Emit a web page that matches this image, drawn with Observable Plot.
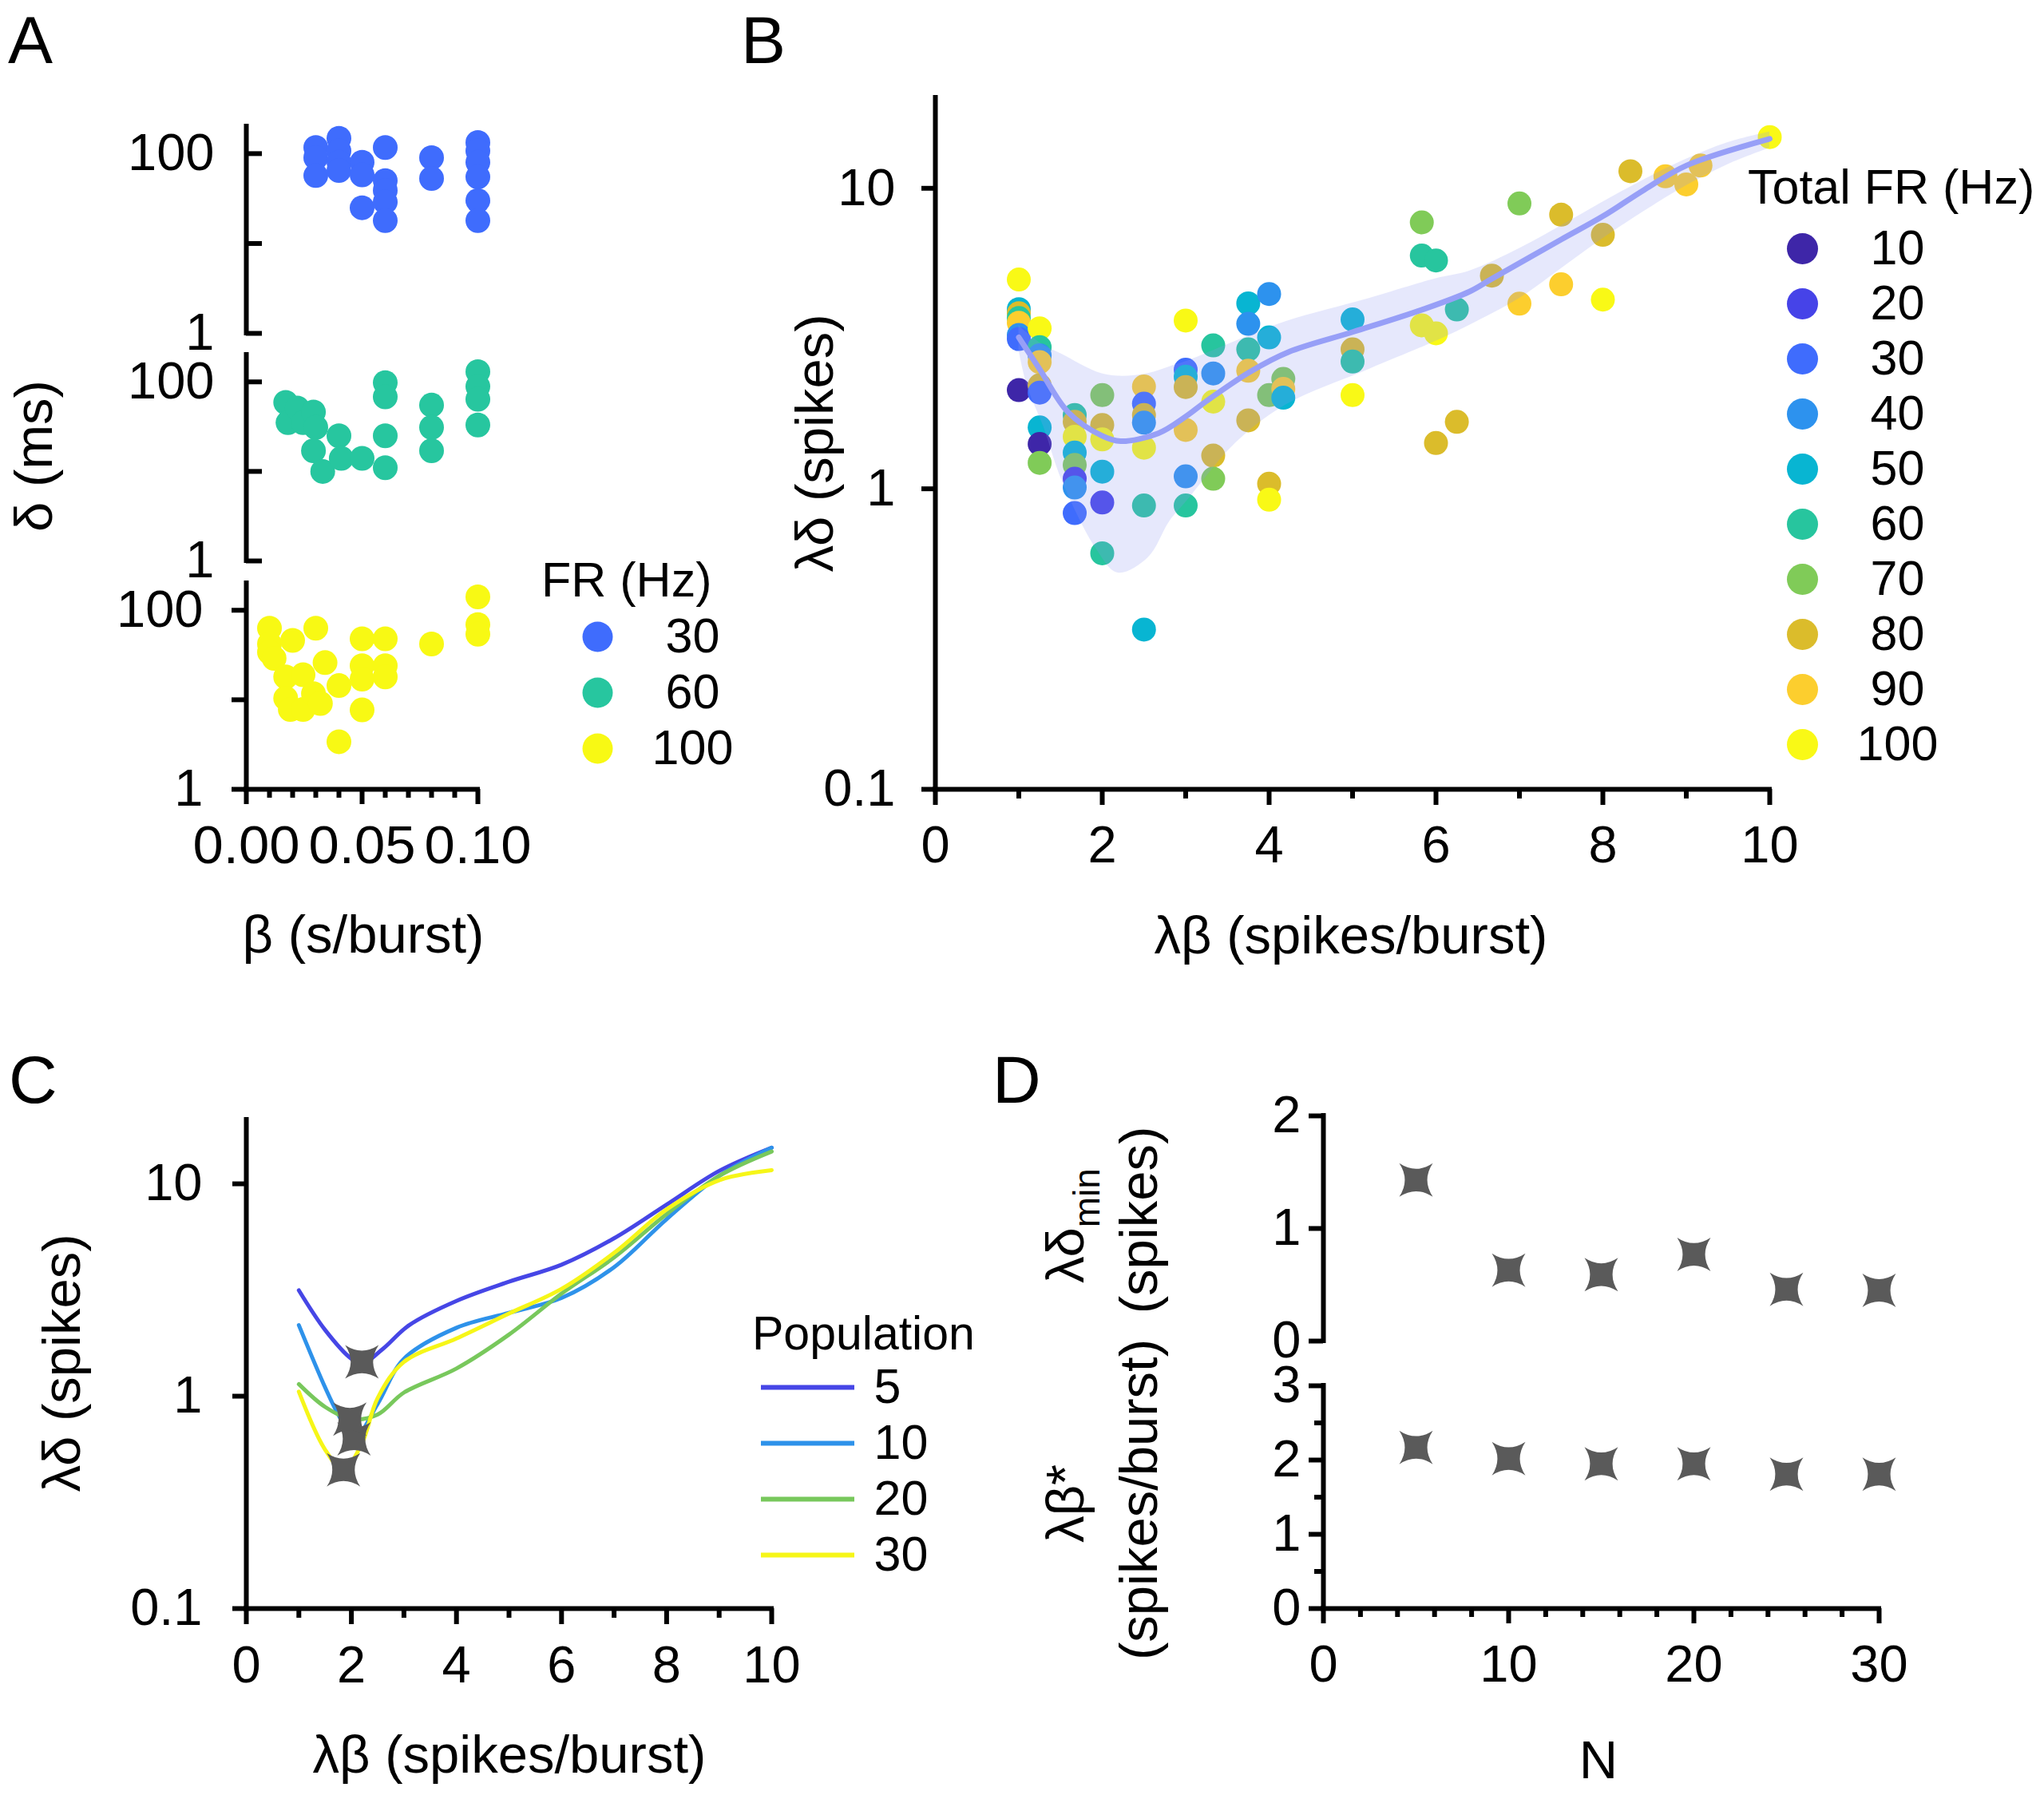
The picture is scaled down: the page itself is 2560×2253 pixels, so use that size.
<!DOCTYPE html>
<html>
<head>
<meta charset="utf-8">
<script src="https://cdn.jsdelivr.net/npm/d3@7"></script>
<script src="https://cdn.jsdelivr.net/npm/@observablehq/plot@0.6"></script>
<style>
html, body { margin: 0; padding: 0; background: #fff; width: 2560px; height: 2253px; }
#fig { position: relative; width: 2560px; height: 2253px; background: #fff; overflow: hidden; }
#fig svg { position: absolute; overflow: visible; max-width: none; }
</style>
</head>
<body>
<div id="fig"></div>
<script>
// ================= DATA =================
// Panel A : beta (s/burst) vs delta (ms), per firing rate
const aFR = [30, 60, 100];
const aColors = ["#3f6cfd", "#27c69f", "#f8f914"];
const aBeta30  = [0.03,0.03,0.03,0.04,0.04,0.04,0.04,0.05,0.05,0.05,0.06,0.06,0.06,0.06,0.06,0.08,0.08,0.10,0.10,0.10,0.10,0.10,0.10];
const aDelta30 = [117,90,57,148,107,80,65,80,58,25,117,50,39,29,18,90,53,133,107,80,55,30,18];
const aBeta60  = [0.017,0.018,0.022,0.0245,0.029,0.030,0.029,0.033,0.040,0.041,0.050,0.060,0.060,0.060,0.060,0.080,0.080,0.080,0.10,0.10,0.10,0.10];
const aDelta60 = [59,35,51,35,46,31,17,10,25,14,14,98,68,25,11,55,31,17,130,89,64,33];
const aBeta100  = [0.010,0.010,0.010,0.012,0.017,0.017,0.019,0.020,0.0245,0.0245,0.030,0.029,0.032,0.034,0.040,0.040,0.050,0.050,0.050,0.050,0.060,0.060,0.060,0.080,0.10,0.10,0.10];
const aDelta100 = [63,42,34,29,18,10.4,7.8,46,19,7.8,63,11.7,9.1,26,14.4,3.4,48,24,17,7.7,48,24,18,42,141,69,54];
const aMajorTicks = [0, 0.05, 0.10];
const aMinorTicks = [0.01,0.02,0.03,0.04,0.06,0.07,0.08,0.09];

// Panel B : lambda*beta vs lambda*delta, coloured by total FR
const bFRs = [10,20,30,40,50,60,70,80,90,100];
const bColors = ["#3e26a8","#4643e8","#3f6cfd","#2d92ee","#08b5d2","#27c59e","#80cb58","#dbbc2b","#fcce2e","#f9f916"];
const bLB = [1,1,1,1,1,1,1,1,
  1.25,1.25,1.25,1.25,1.25,1.25,1.25,1.25,1.25,
  1.67,1.67,1.67,1.67,1.67,1.67,1.67,1.67,
  2,2,2,2,2,2,
  2.5,2.5,2.5,2.5,2.5,2.5,2.5,
  3,3,3,3,3,3,3,
  3.33,3.33,3.33,3.33,3.33,
  3.75,3.75,3.75,3.75,3.75,
  4,4,4,4,4,
  4.17,4.17,4.17,
  5,5,5,5,
  5.83,5.83,5.83,
  6,6,6,
  6.25,6.25,
  6.67,
  7,7,
  7.5,7.5,
  8,8,
  8.33,8.75,9,9.17,10];
const bLD = [4.97,3.96,3.84,3.7,3.57,3.25,3.15,2.13,
  3.42,2.96,2.78,2.64,2.21,2.09,1.60,1.41,1.22,
  1.76,1.67,1.49,1.32,1.20,1.08,1.01,0.83,
  2.05,1.63,1.46,1.14,0.90,0.61,
  2.19,1.92,1.76,1.66,1.37,0.88,0.34,
  3.63,2.49,2.36,2.18,1.57,1.10,0.88,
  3.0,2.42,1.95,1.29,1.08,
  4.14,3.54,2.91,2.47,1.69,
  4.45,3.19,2.05,1.04,0.92,
  2.32,2.15,2.01,
  3.66,2.91,2.65,2.05,
  7.7,5.97,3.5,
  5.75,3.29,1.42,
  3.95,1.67,
  5.12,
  8.9,4.13,
  8.17,4.79,
  7.0,4.26,
  11.4,10.96,10.3,11.9,14.8];
const bFR = [100,50,80,60,90,40,30,10,
  100,60,40,90,80,30,50,10,70,
  60,80,100,50,70,20,40,30,
  70,80,100,50,20,60,
  90,30,80,40,100,60,50,
  100,30,50,80,90,40,60,
  60,40,100,80,70,
  50,40,60,90,80,
  40,50,70,80,100,
  70,90,50,
  50,80,60,100,
  70,60,100,
  60,100,80,
  60,80,
  80,
  70,90,
  80,90,
  80,100,
  80,90,90,90,100];
const bFitLB = [1,1.25,1.59,2.0,2.22,2.67,3.0,3.24,3.77,4.23,5.01,5.84,6.4,6.67,7.5,8.0,8.5,9.0,10];
const bFitLD = [3.19,2.5,1.80,1.5,1.44,1.53,1.74,1.95,2.45,2.85,3.33,3.95,4.53,5.0,6.75,8.07,9.9,11.9,14.6];
const bBandLB = [1,1.1,1.3,1.52,1.93,2.19,2.55,2.81,3.0,3.6,4.2,5.2,6.0,6.4,7,7.5,8,8.5,9,9.5,10];
const bBandLo = [2.9,2.2,1.6,1.06,0.63,0.525,0.59,0.78,0.9,1.42,1.9,2.5,3.1,3.5,4.3,5.4,6.8,8.4,10.2,12.0,13.6];
const bBandHi = [3.5,3.3,3.0,2.80,2.45,2.37,2.42,2.55,2.65,3.1,3.6,4.3,5.0,5.3,6.3,7.5,9.0,10.7,12.5,14.2,15.4];
const bMajorTicks = [0,2,4,6,8,10];
const bMinorTicks = [1,3,5,7,9];

// Panel C : fitted curves per population size
const cPops = [5, 10, 20, 30];
const cColors = ["#4646e6", "#2e92ea", "#78c85c", "#f6f618"];
const cLB5  = [1,1.5,2,2.2,2.6,3.1,4,5,6,7,8,9,10];
const cLD5  = [3.15,2.05,1.5,1.42,1.67,2.16,2.81,3.46,4.16,5.54,7.98,11.5,14.8];
const cLB10 = [1,1.5,1.75,2.05,2.5,3,4,5,6,7,8,9,10];
const cLD10 = [2.16,1.1,0.82,0.63,0.92,1.5,2.1,2.47,2.9,4.05,6.82,10.9,14.8];
const cLB20 = [1,1.5,2,2.5,3,4,5,6,7,8,9,10];
const cLD20 = [1.14,0.89,0.78,0.82,1.04,1.35,1.95,3.04,4.5,7.2,10.9,14.2];
const cLB30 = [1,1.5,1.85,2.2,2.5,3,4,5,6,7,8,9,10];
const cLD30 = [1.05,0.56,0.45,0.6,0.98,1.45,1.87,2.45,3.2,4.73,7.58,10.4,11.6];
const cStarLB = [2.2, 2.05, 1.97, 1.85];
const cStarLD = [1.45, 0.63, 0.78, 0.45];

// Panel D : minima vs population size N
const dN = [5, 10, 15, 20, 25, 30];
const dDeltaMin = [1.43, 0.63, 0.59, 0.77, 0.46, 0.45];
const dBetaStar = [2.17, 2.02, 1.95, 1.95, 1.81, 1.81];
const dMajorX = [0, 10, 20, 30];
const dMinorX = [2,4,6,8,12,14,16,18,22,24,26,28];

// ================= DRAWING =================
const FONT = '"Liberation Sans", Arial, Helvetica, sans-serif';
const fig = document.getElementById("fig");
const AX = 6;           // axis line width
const TICKFONT = 65;
const st = () => ({fontFamily: FONT, fontSize: TICKFONT + "px", color: "#000", background: "transparent", overflow: "visible"});
function put(el, left, top) {
  el.style.position = "absolute";
  el.style.left = left + "px";
  el.style.top = top + "px";
  el.style.maxWidth = "none";
  fig.appendChild(el);
  return el;
}
const fmt = d => String(d);

// custom concave 4-point star
const star4 = {
  draw(ctx, size) {
    const r = Math.sqrt(size / Math.PI), k = 0.34 * r;
    ctx.moveTo(-r, -r);
    ctx.quadraticCurveTo(0, -k, r, -r);
    ctx.quadraticCurveTo(k, 0, r, r);
    ctx.quadraticCurveTo(0, k, -r, r);
    ctx.quadraticCurveTo(-k, 0, -r, -r);
    ctx.closePath();
  }
};
const STAR = "#5a5a5a";
const STAR_R = 21;

// ---------- Panel A ----------
function aSub(betas, deltas, color, top, mTop, frameH, inward, withX) {
  const rows = betas.map((b, i) => ({beta: b, delta: deltas[i]}));
  const mBottom = withX ? 110 : 40;
  const marks = [
    Plot.dot(rows, {x: "beta", y: "delta", r: 15.5, fill: color}),
    Plot.ruleX([0], {stroke: "#000", strokeWidth: AX, strokeLinecap: "square"}),
    Plot.axisY({ticks: [1, 10, 100], tickSize: inward ? -20 : 18, text: null, strokeWidth: AX, label: null}),
    Plot.axisY({ticks: [1, 100], tickSize: 0, tickPadding: inward ? 40 : 54, tickFormat: fmt, label: null})
  ];
  if (withX) {
    marks.push(
      Plot.ruleY([1], {stroke: "#000", strokeWidth: AX, strokeLinecap: "square"}),
      Plot.axisX({ticks: aMajorTicks, tickSize: 19, tickPadding: 26, strokeWidth: AX, tickFormat: d3.format(".2f"), fontSize: 67, label: null}),
      Plot.axisX({ticks: aMinorTicks, tickSize: 11, text: null, strokeWidth: AX, label: null})
    );
  }
  const p = Plot.plot({
    width: 700, height: mTop + frameH + mBottom,
    marginLeft: 308, marginRight: 102, marginTop: mTop, marginBottom: mBottom,
    style: st(),
    x: withX ? {domain: [0, 0.10]} : {domain: [0, 0.10], axis: null},
    y: {type: "log", domain: [1, 200]},
    marks
  });
  return put(p, 0, top);
}
aSub(aBeta30, aDelta30, aColors[0], 120, 38, 259, true, false);
aSub(aBeta60, aDelta60, aColors[1], 410, 34, 258, true, false);
const aBottom = aSub(aBeta100, aDelta100, aColors[2], 700, 30, 258, false, true);
// the reference uses narrow, tall glyphs for these three labels
aBottom.querySelectorAll('g[aria-label="x-axis tick label"] text').forEach(t => {
  t.setAttribute("textLength", 134);
  t.setAttribute("lengthAdjust", "spacingAndGlyphs");
});

// legend A
put(Plot.plot({
  width: 300, height: 300, margin: 0, style: st(),
  x: {domain: [0, 1], range: [108, 227], axis: null},
  y: {type: "point", domain: aFR, range: [117, 257], padding: 0, axis: null},
  color: {domain: aFR, range: aColors},
  marks: [
    Plot.dot(aFR, {x: () => 0, y: d => d, fill: d => d, r: 19}),
    Plot.text(aFR, {x: () => 1, y: d => d, text: fmt, fontSize: 61, textAnchor: "middle"})
  ]
}), 640, 680);

// ---------- Panel B ----------
const bRows = bLB.map((x, i) => ({lb: x, ld: bLD[i], fr: bFR[i]}));
const bFit = bFitLB.map((x, i) => ({lb: x, ld: bFitLD[i]}));
const bBand = bBandLB.map((x, i) => ({lb: x, lo: bBandLo[i], hi: bBandHi[i]}));
put(Plot.plot({
  width: 1260, height: 1038, marginLeft: 171, marginRight: 44, marginTop: 62, marginBottom: 110,
  style: st(),
  x: {domain: [0, 10]},
  y: {type: "log", domain: [0.1, 20]},
  color: {type: "ordinal", domain: bFRs, range: bColors},
  marks: [
    Plot.dot(bRows, {x: "lb", y: "ld", fill: "fr", r: 15}),
    Plot.areaY(bBand, {x: "lb", y1: "lo", y2: "hi", fill: "#8f98f0", fillOpacity: 0.22, curve: "catmull-rom"}),
    Plot.line(bFit, {x: "lb", y: "ld", stroke: "#979ff7", strokeWidth: 7, curve: "catmull-rom"}),
    Plot.ruleX([0], {stroke: "#000", strokeWidth: AX, strokeLinecap: "square"}),
    Plot.ruleY([0.1], {stroke: "#000", strokeWidth: AX, strokeLinecap: "square"}),
    Plot.axisY({ticks: [0.1, 1, 10], tickSize: 17, tickPadding: 33, strokeWidth: AX, tickFormat: fmt, label: null}),
    Plot.axisX({ticks: bMajorTicks, tickSize: 20, tickPadding: 25, strokeWidth: AX, tickFormat: fmt, label: null}),
    Plot.axisX({ticks: bMinorTicks, tickSize: 12, text: null, strokeWidth: AX, label: null})
  ]
}), 1000, 60);

// legend B
put(Plot.plot({
  width: 410, height: 700, margin: 0, style: st(),
  x: {domain: [0, 1], range: [107, 226], axis: null},
  y: {type: "point", domain: bFRs, range: [37, 665], padding: 0, axis: null},
  color: {type: "ordinal", domain: bFRs, range: bColors},
  marks: [
    Plot.dot(bFRs, {x: () => 0, y: d => d, fill: d => d, r: 19.5}),
    Plot.text(bFRs, {x: () => 1, y: d => d, text: fmt, fontSize: 61, textAnchor: "middle"})
  ]
}), 2150, 270);

// ---------- Panel C ----------
const cLBs = [cLB5, cLB10, cLB20, cLB30];
const cLDs = [cLD5, cLD10, cLD20, cLD30];
const cRows = [];
cPops.forEach((p, k) => cLBs[k].forEach((x, i) => cRows.push({pop: p, lb: x, ld: cLDs[k][i]})));
const cStars = cStarLB.map((x, i) => ({lb: x, ld: cStarLD[i]}));
put(Plot.plot({
  width: 1000, height: 784, marginLeft: 308, marginRight: 34, marginTop: 62, marginBottom: 110,
  style: st(),
  x: {domain: [0, 10]},
  y: {type: "log", domain: [0.1, 20]},
  color: {type: "ordinal", domain: cPops, range: cColors},
  marks: [
    Plot.line(cRows, {x: "lb", y: "ld", z: "pop", stroke: "pop", strokeWidth: 5, curve: "catmull-rom"}),
    Plot.dot(cStars, {x: "lb", y: "ld", symbol: star4, r: STAR_R, fill: STAR, stroke: "none"}),
    Plot.ruleX([0], {stroke: "#000", strokeWidth: AX, strokeLinecap: "square"}),
    Plot.ruleY([0.1], {stroke: "#000", strokeWidth: AX, strokeLinecap: "square"}),
    Plot.axisY({ticks: [0.1, 1, 10], tickSize: 17, tickPadding: 38, strokeWidth: AX, tickFormat: fmt, label: null}),
    Plot.axisX({ticks: bMajorTicks, tickSize: 20, tickPadding: 26, strokeWidth: AX, tickFormat: fmt, label: null}),
    Plot.axisX({ticks: bMinorTicks, tickSize: 12, text: null, strokeWidth: AX, label: null})
  ]
}), 0, 1340);

// legend C
put(Plot.plot({
  width: 320, height: 300, margin: 0, style: st(),
  x: {domain: [0, 1], range: [23, 140], axis: null},
  y: {type: "point", domain: cPops, range: [47, 257], padding: 0, axis: null},
  color: {type: "ordinal", domain: cPops, range: cColors},
  marks: [
    Plot.ruleY(cPops, {y: d => d, x1: () => 0, x2: () => 1, stroke: d => d, strokeWidth: 6}),
    Plot.text(cPops, {x: () => 1, dx: 24, y: d => d, text: fmt, fontSize: 61, textAnchor: "start"})
  ]
}), 930, 1690);

// ---------- Panel D ----------
const dTop = dN.map((n, i) => ({n, v: dDeltaMin[i]}));
const dBot = dN.map((n, i) => ({n, v: dBetaStar[i]}));
put(Plot.plot({
  width: 900, height: 57 + 282 + 30, marginLeft: 157, marginRight: 47, marginTop: 57, marginBottom: 30,
  style: st(),
  x: {domain: [0, 30], axis: null},
  y: {domain: [0, 2]},
  marks: [
    Plot.dot(dTop, {x: "n", y: "v", symbol: star4, r: STAR_R, fill: STAR, stroke: "none"}),
    Plot.ruleX([0], {stroke: "#000", strokeWidth: AX, strokeLinecap: "square"}),
    Plot.axisY({ticks: [0, 1, 2], tickSize: 18, tickPadding: 10, strokeWidth: AX, tickFormat: fmt, label: null})
  ]
}), 1500, 1340);
put(Plot.plot({
  width: 900, height: 35 + 279 + 110, marginLeft: 157, marginRight: 47, marginTop: 35, marginBottom: 110,
  style: st(),
  x: {domain: [0, 30]},
  y: {domain: [0, 3]},
  marks: [
    Plot.dot(dBot, {x: "n", y: "v", symbol: star4, r: STAR_R, fill: STAR, stroke: "none"}),
    Plot.ruleX([0], {stroke: "#000", strokeWidth: AX, strokeLinecap: "square"}),
    Plot.ruleY([0], {stroke: "#000", strokeWidth: AX, strokeLinecap: "square"}),
    Plot.axisY({ticks: [0, 1, 2, 3], tickSize: 18, tickPadding: 10, strokeWidth: AX, tickFormat: fmt, label: null}),
    Plot.axisY({ticks: [0.5, 1.5, 2.5], tickSize: 11, text: null, strokeWidth: AX, label: null}),
    Plot.axisX({ticks: dMajorX, tickSize: 19, tickPadding: 26, strokeWidth: AX, tickFormat: fmt, label: null}),
    Plot.axisX({ticks: dMinorX, tickSize: 11, text: null, strokeWidth: AX, label: null})
  ]
}), 1500, 1700);

// ---------- Overlay: panel letters, axis titles, legend titles ----------
const ov = d3.create("svg")
  .attr("width", 2560).attr("height", 2253)
  .attr("font-family", FONT)
  .style("left", "0px").style("top", "0px").style("pointer-events", "none");
function T(x, y, s, size, anchor = "middle") {
  ov.append("text").attr("x", x).attr("y", y).attr("font-size", size)
    .attr("text-anchor", anchor).attr("fill", "#000").text(s);
}
function R(xb, yc, s, size) {
  return ov.append("text").attr("transform", `translate(${xb},${yc}) rotate(-90)`)
    .attr("text-anchor", "middle").attr("font-size", size).attr("fill", "#000").text(s);
}
// panel letters
T(10, 79, "A", 84, "start");
T(928, 79, "B", 84, "start");
T(11, 1381, "C", 84, "start");
T(1243, 1381, "D", 84, "start");
// axis titles
T(455, 1193, "β (s/burst)", 67);
T(1692, 1194, "λβ (spikes/burst)", 67);
T(638, 2220, "λβ (spikes/burst)", 67);
T(2002, 2227, "N", 67);
R(65, 571, "δ (ms)", 67);
R(1043, 555, "λδ (spikes)", 67);
R(100, 1707, "λδ (spikes)", 67);
// panel D two-line titles
const l1 = ov.append("text").attr("transform", "translate(1357,1535) rotate(-90)")
  .attr("text-anchor", "middle").attr("font-size", 67).attr("fill", "#000");
l1.append("tspan").text("λδ");
l1.append("tspan").attr("dy", 20).attr("font-size", 46).text("min");
R(1449, 1528, "(spikes)", 67);
R(1357, 1883, "λβ*", 67);
R(1449, 1878, "(spikes/burst)", 67);
// legend titles
T(678, 747, "FR (Hz)", 61, "start");
T(2189, 255, "Total FR (Hz)", 61, "start");
T(942, 1690, "Population", 59, "start");
put(ov.node(), 0, 0);
</script>
</body>
</html>
